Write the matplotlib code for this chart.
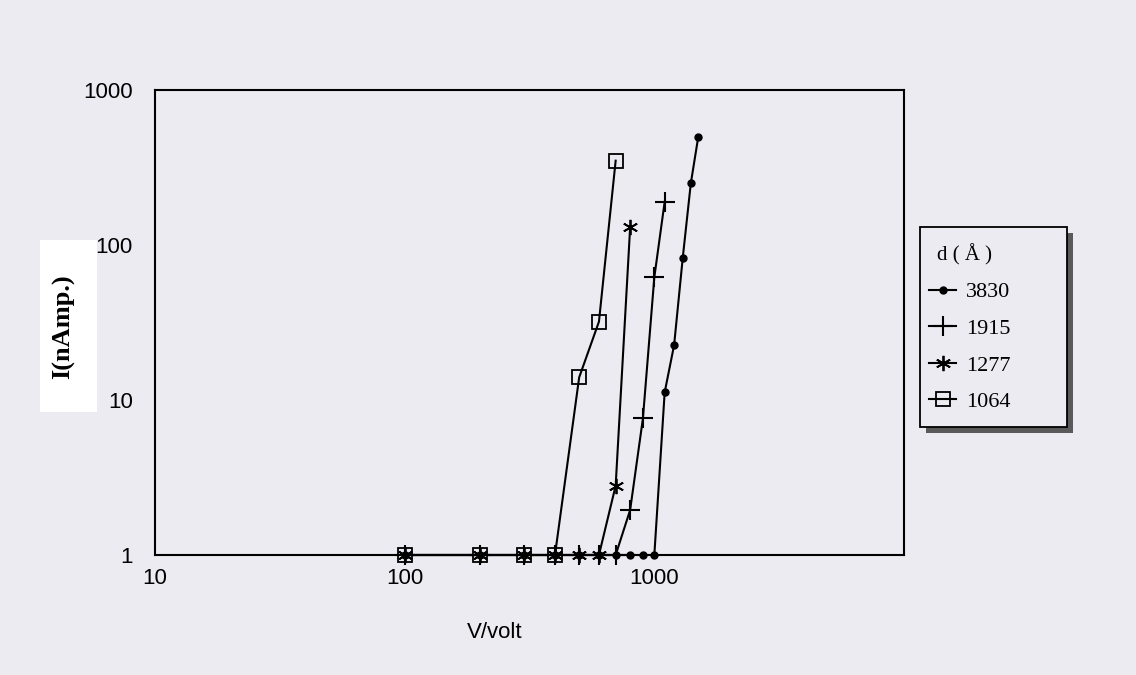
import matplotlib.pyplot as plt
from matplotlib.patches import Rectangle

# data (V in volt, I in nAmp)
v_3830 = [100, 200, 300, 400, 500, 600, 700, 800, 900, 1000, 1100, 1200, 1300, 1400, 1500]
i_3830 = [1, 1, 1, 1, 1, 1, 1, 1, 1, 1, 11.2, 22.6, 83, 250, 500]

v_1915 = [100, 200, 300, 400, 500, 600, 700, 800, 900, 1000, 1100]
i_1915 = [1, 1, 1, 1, 1, 1, 1, 1.95, 7.6, 62, 190]

v_1277 = [100, 200, 300, 400, 500, 600, 700, 800]
i_1277 = [1, 1, 1, 1, 1, 1, 2.8, 130]

v_1064 = [100, 200, 300, 400, 500, 600, 700]
i_1064 = [1, 1, 1, 1, 14, 32, 350]

labels = ['3830', '1915', '1277', '1064']
x_ticks = [10, 100, 1000]
y_ticks = [1, 10, 100, 1000]

bg = '#ecebf2'
W, H = 1136, 675
fig = plt.figure(figsize=(11.36, 6.75), dpi=100, facecolor=bg)
ax = fig.add_axes([155/W, 1 - 555/H, 749/W, 465/H])
ax.set_facecolor(bg)

kw = dict(color='black', lw=1.5, clip_on=False)
ax.plot(v_3830, i_3830, marker='o', ms=5, label=labels[0], **kw)
ax.plot(v_1915, i_1915, marker='+', ms=14, mew=1.5, label=labels[1], **kw)
ax.plot(v_1277, i_1277, marker=(6, 2, 0), ms=11, mew=1.3, label=labels[2], **kw)
ax.plot(v_1064, i_1064, marker='s', ms=10, mfc='none', mew=1.3, label=labels[3], **kw)

ax.set_xscale('log')
ax.set_yscale('log')
ax.set_xlim(10, 10000)
ax.set_ylim(1, 1000)
ax.set_xticks(x_ticks)
ax.set_xticklabels([str(t) for t in x_ticks])
ax.set_yticks(y_ticks)
ax.set_yticklabels([str(t) for t in y_ticks])
ax.minorticks_off()
ax.tick_params(axis='x', length=0, pad=9, labelsize=16)
ax.tick_params(axis='y', length=0, pad=16, labelsize=16)
for lab in ax.get_xticklabels() + ax.get_yticklabels():
    lab.set_fontfamily('Liberation Sans')
for s in ax.spines.values():
    s.set_linewidth(1.5)

fig.text(495/W, 1 - 632/H, 'V/volt', ha='center', va='center',
         fontsize=16, family='Liberation Sans')

# white paper patch under the y label
fig.patches.append(Rectangle((40/W, 1 - 412/H), 57/W, 172/H,
                             transform=fig.transFigure, facecolor='white',
                             edgecolor='none', zorder=0))
fig.text(64/W, 1 - 327/H, 'I(nAmp.)', rotation=90, ha='center', va='center',
         fontsize=19, fontweight='bold', family='Liberation Serif', zorder=2)

# legend frame with a dark shadow, drawn by hand
lx0, lx1, ly0, ly1 = 920, 1067, 227, 427
sh = 6
fig.patches.append(Rectangle((lx1/W, 1 - (ly1 + sh)/H), sh/W, (ly1 - ly0)/H,
                             transform=fig.transFigure, facecolor='#5a5a5a',
                             edgecolor='none', zorder=0))
fig.patches.append(Rectangle(((lx0 + sh)/W, 1 - (ly1 + sh)/H), (lx1 - lx0)/W, sh/H,
                             transform=fig.transFigure, facecolor='#5a5a5a',
                             edgecolor='none', zorder=0))
fig.patches.append(Rectangle((lx0/W, 1 - ly1/H), (lx1 - lx0)/W, (ly1 - ly0)/H,
                             transform=fig.transFigure, facecolor=bg,
                             edgecolor='black', lw=1.3, zorder=1))

leg = fig.legend(loc='upper left', bbox_to_anchor=(925/W, 1 - 240/H),
                 bbox_transform=fig.transFigure, borderaxespad=0,
                 title='d ( Å )', frameon=False,
                 prop={'family': 'Liberation Serif', 'size': 16},
                 title_fontproperties={'family': 'Liberation Serif', 'size': 15},
                 handlelength=1.2, handletextpad=0.45, labelspacing=0.72,
                 borderpad=0.2)
leg._legend_box.align = 'left'
leg.get_title().set_position((8, 0))
leg.set_zorder(3)

fig.savefig('out.png', dpi=100, facecolor=bg)
